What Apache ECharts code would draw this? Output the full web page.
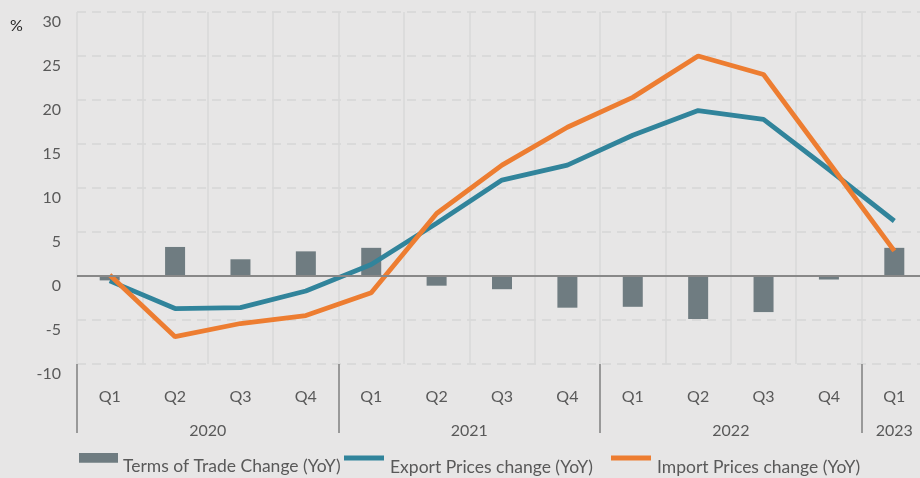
<!DOCTYPE html>
<html>
<head>
<meta charset="utf-8">
<script src="https://cdn.jsdelivr.net/npm/echarts@6/dist/echarts.min.js"></script>
<style>
html,body{margin:0;padding:0;background:#e7e6e6;}
#chart{width:920px;height:478px;}
</style>
</head>
<body>
<div id="chart"></div>
<script>
const quarters = ['Q1','Q2','Q3','Q4','Q1','Q2','Q3','Q4','Q1','Q2','Q3','Q4','Q1'];
const years = ['2020','2020','2020','2020','2021','2021','2021','2021','2022','2022','2022','2022','2023'];
const termsOfTrade = [-0.5, 3.3, 1.9, 2.8, 3.2, -1.1, -1.5, -3.6, -3.5, -4.9, -4.1, -0.4, 3.2];
const exportPrices = [-0.55, -3.7, -3.6, -1.7, 1.3, 6.0, 10.9, 12.6, 16.0, 18.8, 17.8, 12.1, 6.25];
const importPrices = [0.1, -6.9, -5.4, -4.5, -1.9, 7.1, 12.6, 16.9, 20.3, 25.0, 22.9, 12.9, 2.85];
const seriesNames = ['Terms of Trade Change (YoY)', 'Export Prices change (YoY)', 'Import Prices change (YoY)'];
const yTicks = {min: -10, max: 30, interval: 5};

// year groups derived from the years array
const groupStarts = [];
const groupMids = {};
years.forEach((y, i) => { if (i === 0 || years[i - 1] !== y) groupStarts.push(i); });
groupStarts.forEach((s, k) => {
  const e = k + 1 < groupStarts.length ? groupStarts[k + 1] : years.length;
  groupMids[(s + e) / 2] = years[s];
});

const font = 'Lato';
const txt = '#595959';
// icons drawn in the upper part of a taller box so the text sits lower than the key
const barIcon = 'path://M0,0M0,28M0,0H40V10H0Z';
const lineIcon = 'path://M0,0M0,28M0,2.6H40V7.4H0Z';
const legendIcons = [barIcon, lineIcon, lineIcon];
const legendLefts = [79, 344, 611];
const legendWidths = [39, 42, 42];

const chart = echarts.init(document.getElementById('chart'));
chart.setOption({
  backgroundColor: '#e7e6e6',
  animation: false,
  textStyle: {fontFamily: font},
  title: {text: '%', left: 5, top: 13, textStyle: {fontFamily: font, fontSize: 16, fontWeight: 'normal', color: '#262626'}},
  grid: {left: 77, top: 12, width: 850, height: 352, containLabel: false, outerBoundsMode: 'none'},
  legend: seriesNames.map((n, i) => ({
    left: legendLefts[i], top: 453, padding: 0, itemGap: 0,
    itemWidth: legendWidths[i], itemHeight: 28,
    data: [{name: n, icon: legendIcons[i]}],
    textStyle: {fontFamily: font, fontSize: 17.5, color: txt}
  })),
  xAxis: [
    {
      type: 'category', data: quarters, position: 'bottom',
      axisLine: {show: false, onZero: false}, axisTick: {show: false},
      axisLabel: {margin: 25, fontSize: 16, color: txt, fontFamily: font},
      splitLine: {show: true, lineStyle: {color: '#d9d9d9', width: 1.5, type: 'solid'}}
    },
    {
      type: 'value', position: 'bottom', min: 0, max: quarters.length,
      axisLine: {show: false, onZero: false},
      splitLine: {show: false},
      axisTick: {show: true, length: 69, customValues: groupStarts, lineStyle: {color: '#808080', width: 1.5}},
      axisLabel: {
        margin: 59, fontSize: 16, color: txt, fontFamily: font,
        customValues: Object.keys(groupMids).map(Number),
        formatter: v => groupMids[v] || ''
      }
    }
  ],
  yAxis: {
    type: 'value', min: yTicks.min, max: yTicks.max, interval: yTicks.interval,
    axisLine: {show: false}, axisTick: {show: false},
    axisLabel: {margin: 16, fontSize: 16, color: txt, fontFamily: font, verticalAlign: 'top', padding: [2, 0, 0, 0]},
    splitLine: {lineStyle: {color: '#d6d6d6', width: 1.5, type: [9, 6]}}
  },
  series: [
    {
      name: seriesNames[0], type: 'bar', data: termsOfTrade, barWidth: 20,
      itemStyle: {color: '#6f7c81'}, z: 2,
      markLine: {silent: true, symbol: 'none', label: {show: false},
        lineStyle: {color: '#888888', width: 2, type: 'solid'}, data: [{yAxis: 0}]}
    },
    {
      name: seriesNames[1], type: 'line', data: exportPrices, symbol: 'none',
      lineStyle: {color: '#31849b', width: 4.8}, itemStyle: {color: '#31849b'}, z: 3
    },
    {
      name: seriesNames[2], type: 'line', data: importPrices, symbol: 'none',
      lineStyle: {color: '#ed7d31', width: 4.8}, itemStyle: {color: '#ed7d31'}, z: 4
    }
  ]
});
</script>
</body>
</html>
